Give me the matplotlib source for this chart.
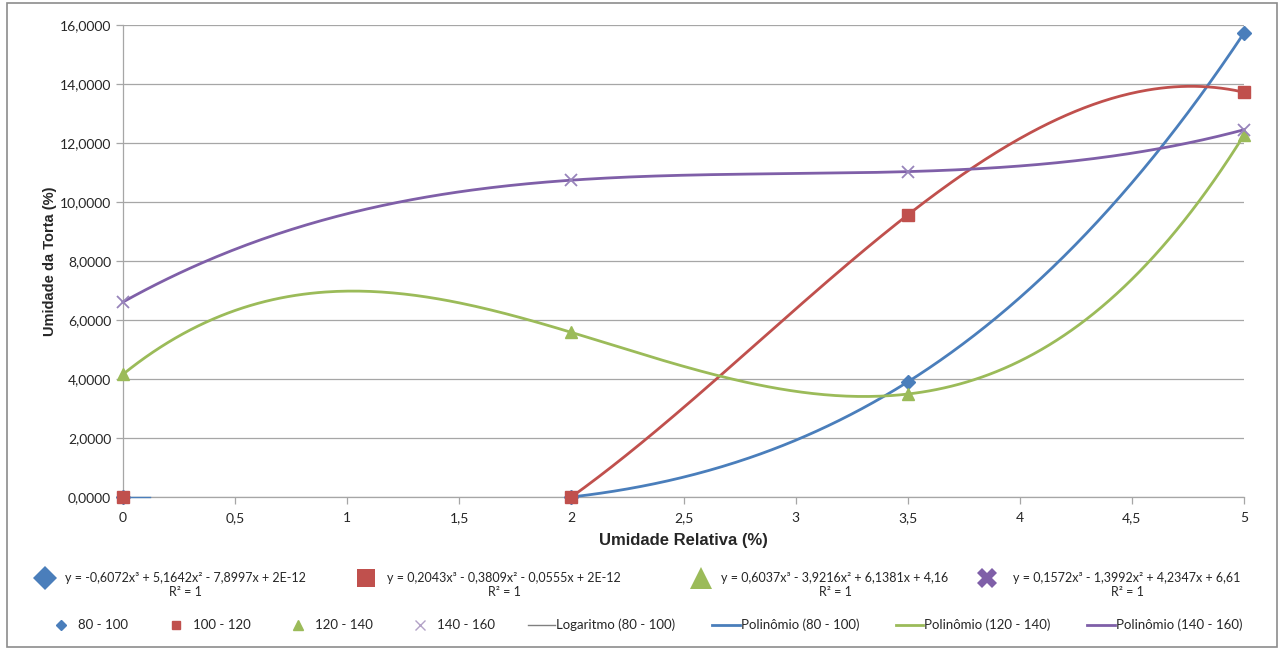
import matplotlib
matplotlib.use("Agg")
import matplotlib.pyplot as plt
from matplotlib.lines import Line2D
from matplotlib.patches import Rectangle
import numpy as np

# data
umid_relativa = [0, 2, 3.5, 5]
s_80_100 = [0.0, 0.0, 3.90, 15.73]
s_100_120 = [0.0, 0.0, 9.56, 13.72]
s_120_140 = [4.16, 5.58, 3.49, 12.27]
s_140_160 = [6.61, 10.74, 11.03, 12.45]

equations = [
    "y = -0,6072x³ + 5,1642x² - 7,8997x + 2E-12\nR² = 1",
    "y = 0,2043x³ - 0,3809x² - 0,0555x + 2E-12\nR² = 1",
    "y = 0,6037x³ - 3,9216x² + 6,1381x + 4,16\nR² = 1",
    "y = 0,1572x³ - 1,3992x² + 4,2347x + 6,61\nR² = 1",
]
series_names = ["80 - 100", "100 - 120", "120 - 140", "140 - 160"]
trend_names = ["Logaritmo (80 - 100)", "Polinômio (80 - 100)",
               "Polinômio (120 - 140)", "Polinômio (140 - 160)"]
y_ticks = [0, 2, 4, 6, 8, 10, 12, 14, 16]
x_ticks = [0, 0.5, 1, 1.5, 2, 2.5, 3, 3.5, 4, 4.5, 5]

BLUE = "#4A7EBB"
RED = "#C0504D"
GREEN = "#9BBB59"
PURPLE = "#7F5FA8"
LAVENDER = "#B3A2C7"
GRID = "#A6A6A6"
TXT = "#262626"

plt.rcParams['font.family'] = ['Lato', 'DejaVu Sans']

W, H = 1280, 651
fig = plt.figure(figsize=(W / 100, H / 100), dpi=100)


def fx(px):
    return px / W


def fy(py):
    return 1 - py / H


fig.add_artist(Rectangle((fx(7), fy(647)), fx(1277) - fx(7), fy(3) - fy(647),
                         transform=fig.transFigure, fill=False,
                         edgecolor="#8C8C8C", linewidth=1.2))

ax = fig.add_axes([fx(123), fy(497), fx(1244) - fx(123), fy(25) - fy(497)])
x = np.array(umid_relativa)

# trendlines (cubic fits through the points)
fits = [
    (s_80_100, BLUE, 2),
    (s_100_120, RED, 2),
    (s_120_140, GREEN, 0),
    (s_140_160, PURPLE, 0),
]
for ys, col, x0 in fits:
    coef = np.polyfit(x, ys, 3)
    xx = np.linspace(x0, 5, 300)
    ax.plot(xx, np.polyval(coef, xx), color=col, linewidth=2.0, zorder=3, clip_on=False)
ax.plot([0, 0.12], [0, 0], color=BLUE, linewidth=1.0, zorder=3, clip_on=False)

ax.plot(x, s_80_100, linestyle='none', marker='D', ms=7, color=BLUE, zorder=4, clip_on=False)
ax.plot(x, s_100_120, linestyle='none', marker='s', ms=8, color=RED, zorder=4, clip_on=False)
ax.plot(x, s_120_140, linestyle='none', marker='^', ms=9, color=GREEN, zorder=4, clip_on=False)
ax.plot(x, s_140_160, linestyle='none', marker='x', ms=9, mew=1.3, color="#9884BB",
        zorder=4, clip_on=False)

ax.set_xlim(0, 5)
ax.set_ylim(0, 16)
ax.set_yticks(y_ticks)
ax.set_yticklabels([f"{v:.4f}".replace('.', ',') for v in y_ticks])
ax.set_xticks(x_ticks)
ax.set_xticklabels([f"{v:g}".replace('.', ',') for v in x_ticks])
ax.yaxis.grid(True, color=GRID, linewidth=0.9)
ax.set_axisbelow(True)
for s in ['top', 'right']:
    ax.spines[s].set_visible(False)
for s in ['left', 'bottom']:
    ax.spines[s].set_color(GRID)
    ax.spines[s].set_linewidth(0.9)
ax.tick_params(axis='both', colors=GRID, labelcolor=TXT, labelsize=10, length=5, width=0.9)
ax.tick_params(axis='x', pad=6)

fig.text(fx(683), fy(540), "Umidade Relativa (%)", ha='center', va='center',
         fontsize=12, fontweight='bold', family='Liberation Sans', color=TXT)
fig.text(fx(50), fy(261), "Umidade da Torta (%)", ha='center', va='center',
         rotation=90, fontsize=10.5, fontweight='bold', family='Liberation Sans', color=TXT)

# legend row 1: equations
big_markers = [('D', BLUE, 12), ('s', RED, 13), ('^', GREEN, 16), ('X', PURPLE, 15)]
mk_x = [45, 366, 701, 987]
eq_x = [185, 504, 835, 1127]
for (m, c, s), mx, ex, eq in zip(big_markers, mk_x, eq_x, equations):
    fig.add_artist(Line2D([fx(mx)], [fy(578)], marker=m, ms=s, color=c, mew=0,
                          linestyle='none', transform=fig.transFigure))
    fig.text(fx(ex), fy(585), eq, ha='center', va='center', fontsize=9,
             color=TXT, multialignment='center', linespacing=1.25)

# legend row 2
ly = 625
small_markers = [('D', BLUE, 5, 1), ('s', RED, 6, 1), ('^', GREEN, 6.5, 1), ('x', LAVENDER, 7, 1)]
sm_x = [61, 176, 298, 420]
st_x = [78, 193, 315, 437]
for (m, c, s, w), mx, tx, name in zip(small_markers, sm_x, st_x, series_names):
    fig.add_artist(Line2D([fx(mx)], [fy(ly)], marker=m, ms=s, color=c, mew=w,
                          linestyle='none', transform=fig.transFigure))
    fig.text(fx(tx), fy(ly), name, ha='left', va='center', fontsize=9.5, color=TXT)

line_specs = [("#808080", 1.0, 528, 555), (BLUE, 2.0, 712, 740),
              (GREEN, 2.0, 896, 923), (PURPLE, 2.0, 1087, 1115)]
for (c, lw, x0, x1), name in zip(line_specs, trend_names):
    fig.add_artist(Line2D([fx(x0), fx(x1)], [fy(ly), fy(ly)], color=c, linewidth=lw,
                          transform=fig.transFigure))
    fig.text(fx(x1 + 1), fy(ly), name, ha='left', va='center', fontsize=9.5, color=TXT)

fig.savefig("out.png", dpi=100, facecolor='white')
